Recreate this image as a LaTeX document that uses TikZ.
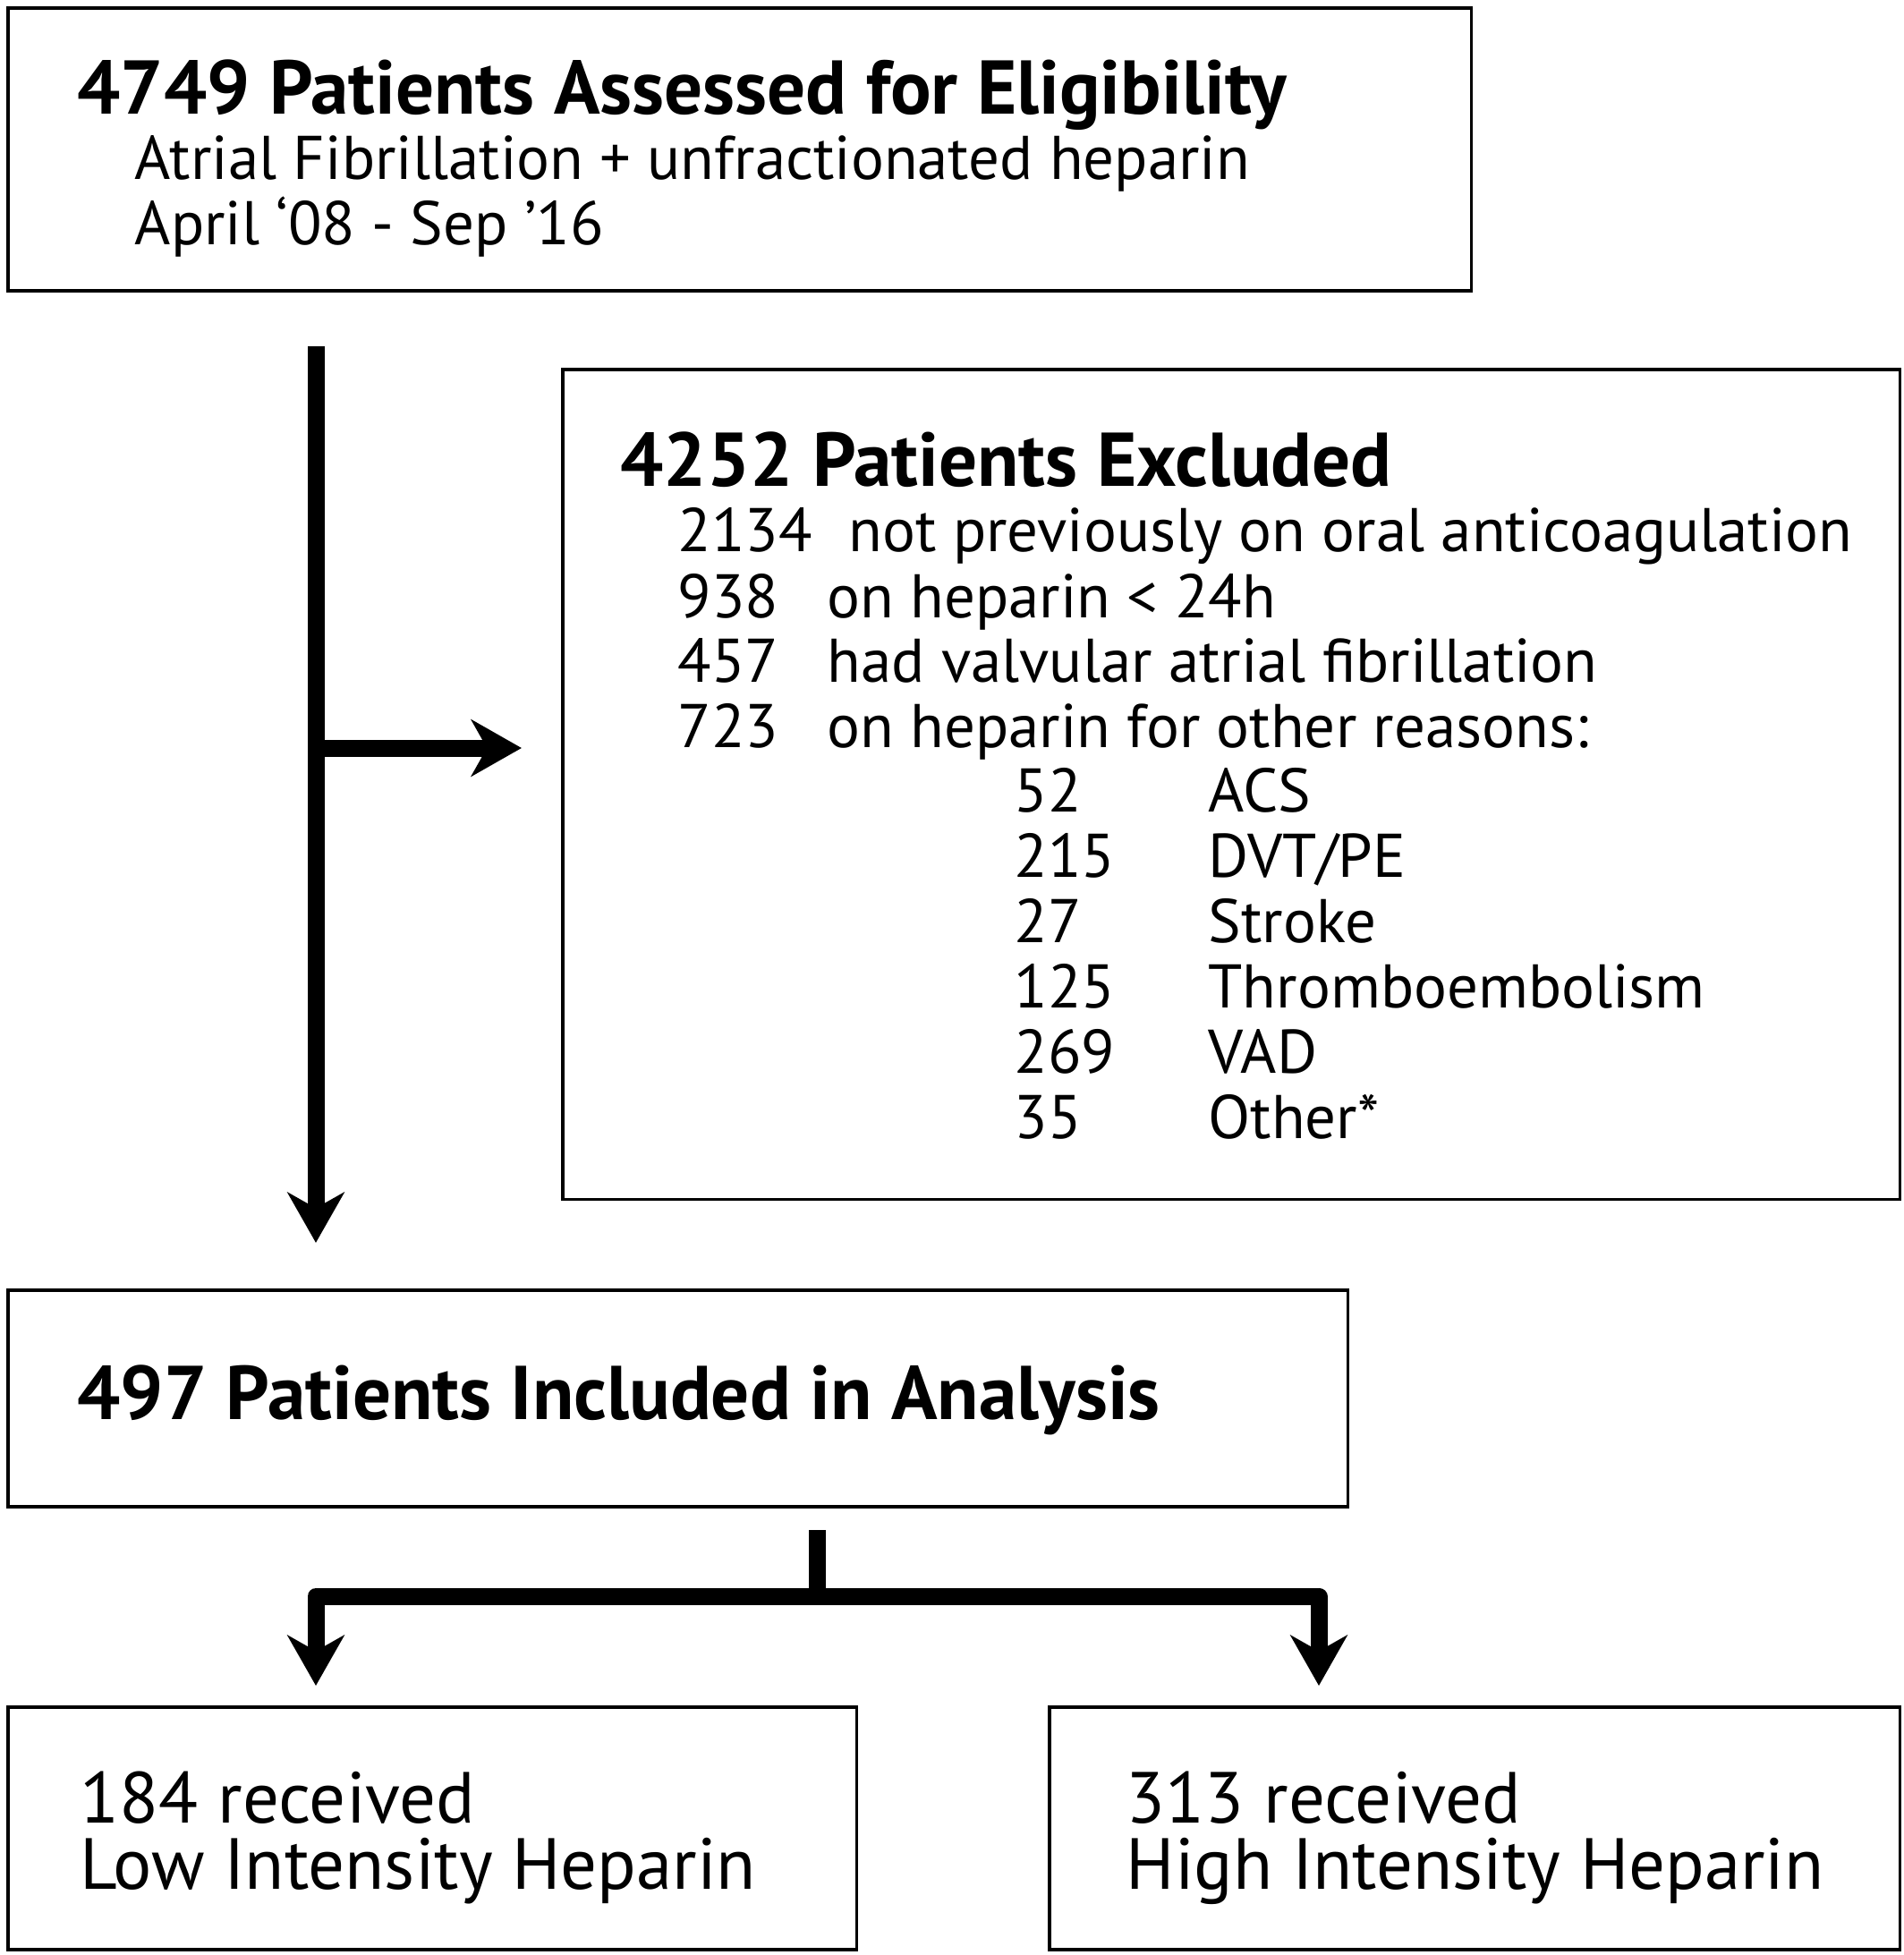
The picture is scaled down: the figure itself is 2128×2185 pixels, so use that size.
\documentclass[tikz,border=0pt]{standalone}
\usepackage{fontspec}
\setmainfont{PT Sans}
\usetikzlibrary{arrows.meta}

\tikzset{
  box/.style={draw, line width=1pt, anchor=north west, inner sep=0pt},
  txt/.style={anchor=base west, inner sep=0pt, font=\fontsize{19.6}{23}\selectfont},
  head/.style={txt, font=\fontsize{24.2}{29}\selectfont\bfseries},
  big/.style={txt, font=\fontsize{23}{27}\selectfont},
  trunk/.style={line width=5.4pt, line join=round},
  flow/.style={trunk, -{Stealth[length=16pt,width=18pt,inset=5pt]}}
}

\begin{document}
\begin{tikzpicture}[x=0.01cm,y=-0.01cm]
  \useasboundingbox (0,0) rectangle (2128,2185);

  % boxes
  \node[box, minimum width=16.35cm, minimum height=3.16cm] (assess) at (7,7) {};
  \node[box, minimum width=14.94cm, minimum height=9.27cm] (excl) at (627,411) {};
  \node[box, minimum width=14.97cm, minimum height=2.42cm] (incl) at (7,1440) {};
  \node[box, minimum width=9.48cm, minimum height=2.71cm] (low) at (7,1906) {};
  \node[box, minimum width=9.50cm, minimum height=2.71cm] (high) at (1171,1906) {};

  % assessed
  \node[head] (t1) at (86,128) {4749 Patients Assessed for Eligibility};
  \node[txt] (t2) at (150,200) {Atrial Fibrillation + unfractionated heparin};
  \node[txt] (t3) at (150,273) {April ‘08 - Sep ’16};

  % excluded
  \node[head] (e0) at (693,543) {4252 Patients Excluded};
  \node[txt] (n1) at (757,616) {2134};
  \node[txt] (r1) at (948,616) {not previously on oral anticoagulation};
  \node[txt] (n2) at (757,690) {938};
  \node[txt] (r2) at (924,690) {on heparin < 24h};
  \node[txt] (n3) at (757,762) {457};
  \node[txt] (r3) at (924,762) {had valvular atrial fibrillation};
  \node[txt] (n4) at (757,835) {723};
  \node[txt] (r4) at (924,835) {on heparin for other reasons:};
  \foreach \num/\why [count=\i] in {52/ACS, 215/DVT\slash PE, 27/Stroke,
      125/Thromboembolism, 269/VAD, 35/Other*} {
    \node[txt] (sn\i) at (1133,834+73*\i) {\num};
    \node[txt] (sr\i) at (1350,834+73*\i) {\why};
  }

  % included and arms
  \node[head] (i0) at (86,1586) {497 Patients Included in Analysis};
  \node[big] (l1) at (89,2037) {184 received};
  \node[big] (l2) at (89,2111) {Low Intensity Heparin};
  \node[big] (h1) at (1258,2037) {313 received};
  \node[big] (h2) at (1258,2111) {High Intensity Heparin};

  % connectors
  \coordinate (top) at (353,387);
  \coordinate (split) at (353,836);
  \coordinate (stem) at (913,1710);
  \coordinate (fork) at (913,1784);
  \coordinate (lowdrop) at (353,1884);
  \coordinate (highdrop) at (1474,1884);
  \draw[flow, shorten >=0.51cm] (top) -- (top |- incl.north);
  \draw[flow, shorten >=0.44cm] (split) -- (split -| excl.west);
  \draw[trunk] (stem) -- (fork);
  \draw[flow] (fork) -| (lowdrop);
  \draw[flow] (fork) -| (highdrop);
\end{tikzpicture}
\end{document}
